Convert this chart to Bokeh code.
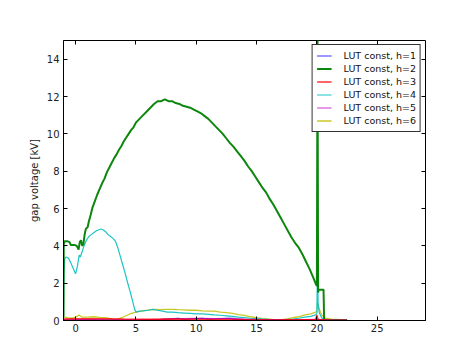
from bokeh.plotting import figure
from bokeh.models import LinearAxis, FixedTicker, Range1d, Legend, LegendItem
from bokeh.embed import file_html
from bokeh.resources import INLINE

# ---- data ----
h2_x = [-1.0, -0.98, -0.9, -0.7, -0.5, -0.4, -0.1, 0.1, 0.25, 0.35, 0.45, 0.55, 0.65, 0.75, 0.85,
        1.0, 1.1, 1.25, 1.4, 1.6, 1.8, 2.0, 2.2, 2.4, 2.6, 2.8, 3.0, 3.2, 3.4, 3.6, 3.8, 4.0, 4.2,
        4.4, 4.6, 4.8, 5.0, 5.3, 5.6, 5.9, 6.2, 6.5, 6.8, 7.1, 7.4, 7.7, 8.0, 8.3, 8.6, 8.9, 9.2,
        9.5, 9.8, 10.1, 10.4, 10.7, 11.0, 11.3, 11.6, 11.9, 12.2, 12.5, 12.8, 13.1, 13.4, 13.7,
        14.0, 14.3, 14.6, 14.9, 15.2, 15.5, 15.8, 16.1, 16.4, 16.7, 17.0, 17.3, 17.6, 17.9, 18.2,
        18.5, 18.8, 19.1, 19.4, 19.7, 19.95, 20.0, 20.05, 20.1, 20.15, 20.55, 20.6, 21.0, 21.5,
        22.0, 22.5]
h2_y = [0.2, 4.1, 4.25, 4.25, 4.2, 4.05, 4.05, 4.0, 3.8, 4.2, 4.3, 4.0, 4.1, 4.6, 4.9,
        5.0, 5.3, 5.65, 6.05, 6.4, 6.75, 7.05, 7.35, 7.6, 7.95, 8.2, 8.45, 8.7, 8.9, 9.15, 9.35,
        9.6, 9.8, 10.0, 10.2, 10.35, 10.6, 10.8, 11.0, 11.2, 11.4, 11.6, 11.75, 11.75, 11.85,
        11.75, 11.75, 11.65, 11.6, 11.5, 11.45, 11.4, 11.3, 11.2, 11.1, 10.95, 10.8, 10.6, 10.4,
        10.2, 10.0, 9.75, 9.5, 9.3, 9.05, 8.8, 8.55, 8.25, 8.0, 7.7, 7.4, 7.1, 6.85, 6.5, 6.2,
        5.85, 5.5, 5.15, 4.8, 4.45, 4.15, 3.9, 3.55, 3.15, 2.75, 2.3, 1.9, 1.85, 15.5, 1.5,
        1.65, 1.65, 0.03, 0.02, 0.02, 0.02, 0.02]

h4_x = [-1.0, -0.97, -0.9, -0.8, -0.6, -0.4, -0.2, 0.0, 0.15, 0.3, 0.4, 0.5, 0.7, 0.9, 1.1, 1.3,
        1.5, 1.7, 1.9, 2.1, 2.3, 2.5, 2.7, 2.9, 3.1, 3.3, 3.5, 3.7, 3.9, 4.1, 4.3, 4.5, 4.7, 4.9,
        5.0, 5.3, 5.6, 6.0, 6.4, 6.8, 7.2, 7.6, 8.0, 8.5, 9.0, 9.5, 10.0, 10.5, 11.0, 11.5, 12.0,
        12.5, 13.0, 13.5, 14.0, 14.5, 15.0, 15.5, 16.0, 16.5, 17.0, 17.5, 18.0, 18.5, 19.0, 19.5,
        19.9, 20.0, 20.05, 20.1, 20.2, 20.4, 20.6, 21.0, 22.5]
h4_y = [0.0, 2.5, 3.3, 3.4, 3.35, 3.1, 2.8, 2.5, 2.9, 3.5, 3.4, 3.6, 4.0, 4.3, 4.5, 4.6,
        4.7, 4.8, 4.85, 4.9, 4.85, 4.75, 4.6, 4.5, 4.4, 4.25, 3.9, 3.45, 3.0, 2.55, 2.05, 1.6,
        1.1, 0.6, 0.45, 0.5, 0.52, 0.55, 0.6, 0.55, 0.5, 0.45, 0.45, 0.42, 0.4, 0.38, 0.35, 0.35,
        0.33, 0.3, 0.28, 0.25, 0.22, 0.18, 0.15, 0.12, 0.1, 0.08, 0.06, 0.05, 0.04, 0.05, 0.08,
        0.12, 0.18, 0.22, 0.3, 0.4, 3.5, 0.9, 0.4, 0.15, 0.05, 0.02, 0.02]

h6_x = [-1.0, -0.7, -0.4, -0.1, 0.2, 0.3, 0.5, 1.0, 1.5, 2.0, 2.5, 3.0, 3.3, 3.6, 4.0, 4.5, 5.0,
        5.5, 6.0, 6.5, 7.0, 7.5, 8.0, 8.5, 9.0, 9.5, 10.0, 10.5, 11.0, 11.5, 12.0, 12.5, 13.0,
        13.5, 14.0, 14.5, 15.0, 15.5, 16.0, 16.5, 17.0, 17.5, 18.0, 18.5, 19.0, 19.5, 19.9, 20.0,
        20.05, 20.2, 20.4, 20.7, 21.2, 22.0, 22.5]
h6_y = [0.2, 0.15, 0.12, 0.15, 0.25, 0.3, 0.18, 0.18, 0.2, 0.17, 0.15, 0.08, 0.03, 0.1, 0.2,
        0.35, 0.45, 0.52, 0.56, 0.6, 0.58, 0.6, 0.6, 0.58, 0.57, 0.55, 0.55, 0.52, 0.5, 0.5, 0.45,
        0.42, 0.38, 0.32, 0.27, 0.2, 0.15, 0.1, 0.07, 0.04, 0.03, 0.08, 0.15, 0.2, 0.3, 0.35,
        0.45, 0.5, 0.95, 0.6, 0.3, 0.12, 0.07, 0.04, 0.03]

h3_x = [-1.0, 0.0, 2.0, 4.0, 6.0, 8.0, 10.0, 12.0, 14.0, 16.0, 18.0, 19.9, 20.0, 20.1, 21.0, 22.5]
h3_y = [0.08, 0.1, 0.1, 0.08, 0.07, 0.08, 0.06, 0.05, 0.04, 0.03, 0.04, 0.05, 0.3, 0.05, 0.02, 0.01]

h1_x = [-1.0, 1.0, 3.0, 5.0, 7.0, 8.5, 9.0, 10.5, 11.0, 12.8, 13.2, 15.0, 17.0, 19.0, 20.0, 21.0, 22.5]
h1_y = [0.02, 0.03, 0.02, 0.03, 0.05, 0.12, 0.06, 0.12, 0.07, 0.12, 0.06, 0.04, 0.02, 0.03, 0.05, 0.02, 0.01]

h5_x = [-1.0, 1.0, 3.0, 5.0, 7.0, 9.0, 10.0, 11.5, 13.0, 14.0, 16.0, 18.0, 20.0, 21.0, 22.5]
h5_y = [0.04, 0.05, 0.04, 0.05, 0.06, 0.1, 0.12, 0.1, 0.11, 0.07, 0.04, 0.03, 0.06, 0.02, 0.01]

labels = ["LUT const, h=1", "LUT const, h=2", "LUT const, h=3",
          "LUT const, h=4", "LUT const, h=5", "LUT const, h=6"]
x_ticks = [0, 5, 10, 15, 20, 25]
y_ticks = [0, 2, 4, 6, 8, 10, 12, 14]

FONT = "DejaVu Sans"

p = figure(output_backend="svg", toolbar_location=None,
           frame_width=362, frame_height=280,
           min_border_left=63, min_border_right=38, min_border_top=40, min_border_bottom=28,
           x_range=Range1d(-1, 29), y_range=Range1d(0, 15),
           background_fill_color="white", border_fill_color="white")
p.xgrid.visible = False
p.ygrid.visible = False
p.outline_line_color = "black"
p.outline_line_alpha = 1
p.outline_line_width = 1

for ax in (p.xaxis[0], p.yaxis[0]):
    ax.major_tick_in = 4
    ax.major_tick_out = 0
    ax.minor_tick_line_color = None
    ax.axis_line_color = "black"
    ax.major_tick_line_color = "black"
    ax.major_label_text_font = FONT
    ax.major_label_text_font_size = "10px"
    ax.major_label_text_color = "#222222"
p.xaxis[0].ticker = FixedTicker(ticks=x_ticks)
p.yaxis[0].ticker = FixedTicker(ticks=y_ticks)
p.xaxis[0].major_label_standoff = 3
p.yaxis[0].major_label_standoff = 4
p.yaxis[0].axis_label = "gap voltage [kV]"
p.yaxis[0].axis_label_text_font = FONT
p.yaxis[0].axis_label_text_font_size = "10px"
p.yaxis[0].axis_label_text_font_style = "normal"
p.yaxis[0].axis_label_text_color = "#222222"
p.yaxis[0].axis_label_standoff = 4

top = LinearAxis(ticker=FixedTicker(ticks=x_ticks), major_label_text_color=None,
                 axis_line_color=None, major_tick_in=4, major_tick_out=0,
                 minor_tick_line_color=None, major_label_standoff=0)
right = LinearAxis(ticker=FixedTicker(ticks=y_ticks), major_label_text_color=None,
                   axis_line_color=None, major_tick_in=4, major_tick_out=0,
                   minor_tick_line_color=None, major_label_standoff=0)
p.add_layout(top, "above")
p.add_layout(right, "right")

# data lines
r6 = p.line(h6_x, h6_y, line_color="#bfbf00", line_width=1.3, line_alpha=0.85)
r4 = p.line(h4_x, h4_y, line_color="#00bfbf", line_width=1.2, line_alpha=0.9)
r2 = p.line(h2_x, h2_y, line_color="#008000", line_width=2.0, line_alpha=0.95)
r1 = p.line(h1_x, h1_y, line_color="#0000ff", line_width=1.2, line_alpha=0.8)
r5 = p.line(h5_x, h5_y, line_color="#bf00bf", line_width=1.2, line_alpha=0.8)
r3 = p.line(h3_x, h3_y, line_color="#ff0000", line_width=1.5, line_alpha=0.8)

items = [LegendItem(label=lab, renderers=[r])
         for lab, r in zip(labels, [r1, r2, r3, r4, r5, r6])]

legend = Legend(items=items, location="top_right",
                label_text_font=FONT, label_text_font_size="9.5px", label_text_color="#111111",
                glyph_width=15, glyph_height=13, label_height=13, label_standoff=12,
                spacing=0, padding=4, margin=4,
                border_line_color="#333333", border_line_width=1.5, border_line_alpha=1,
                background_fill_color="white", background_fill_alpha=1)
p.add_layout(legend, "center")

open("out.html", "w").write(file_html(p, INLINE))
